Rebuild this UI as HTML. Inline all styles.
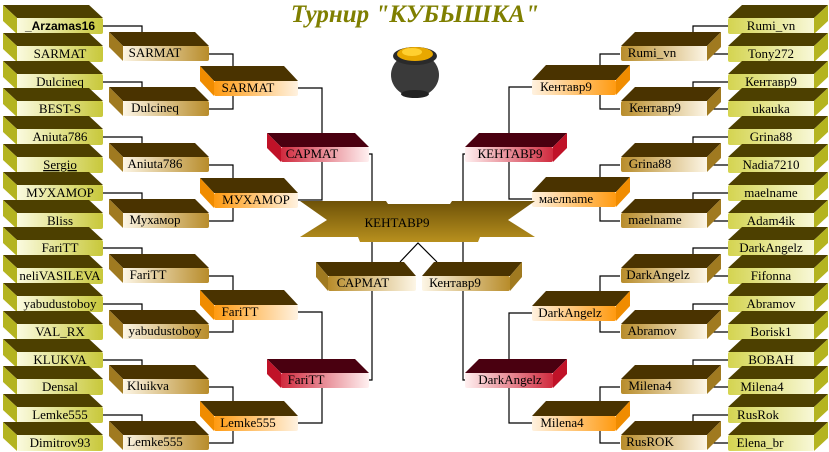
<!DOCTYPE html>
<html><head><meta charset="utf-8"><style>
html,body{margin:0;padding:0;background:#fff;width:829px;height:452px;overflow:hidden}
svg text{font-family:"Liberation Serif",serif;font-size:13px;fill:#000;text-anchor:middle}
</style></head><body>
<svg width="829" height="452" viewBox="0 0 829 452" xmlns="http://www.w3.org/2000/svg">
<defs>
<linearGradient id="l1" x1="0" x2="1"><stop offset="0" stop-color="#fbfbe0"/><stop offset="1" stop-color="#c8c83a"/></linearGradient>
<linearGradient id="r1" x1="0" x2="1"><stop offset="0" stop-color="#d4d450"/><stop offset="1" stop-color="#f8f8d8"/></linearGradient>
<linearGradient id="l2" x1="0" x2="1"><stop offset="0" stop-color="#fdf6e6"/><stop offset="1" stop-color="#b88c2a"/></linearGradient>
<linearGradient id="r2" x1="0" x2="1"><stop offset="0" stop-color="#b88c2a"/><stop offset="1" stop-color="#fdf6e6"/></linearGradient>
<linearGradient id="l3" x1="0" x2="1"><stop offset="0" stop-color="#ff9a10"/><stop offset="1" stop-color="#fff2e0"/></linearGradient>
<linearGradient id="r3" x1="0" x2="1"><stop offset="0" stop-color="#fff2e0"/><stop offset="1" stop-color="#ff9a10"/></linearGradient>
<linearGradient id="l4" x1="0" x2="1"><stop offset="0" stop-color="#d02a3e"/><stop offset="1" stop-color="#fff0f0"/></linearGradient>
<linearGradient id="r4" x1="0" x2="1"><stop offset="0" stop-color="#fff0f0"/><stop offset="1" stop-color="#d02a3e"/></linearGradient>
<linearGradient id="ban" x1="0" y1="0" x2="0" y2="1"><stop offset="0" stop-color="#6e5208"/><stop offset="1" stop-color="#b8901e"/></linearGradient>
</defs>
<text x="415" y="22" style="font-size:25px;font-weight:bold;font-style:italic;fill:#7f7f00">Турнир "КУБЫШКА"</text>
<ellipse cx="415" cy="75" rx="24" ry="22" fill="#3a3a3a"/>
<ellipse cx="415" cy="56" rx="22" ry="9" fill="#2a2a2a"/>
<ellipse cx="415" cy="54" rx="18" ry="7" fill="#e8a800"/>
<ellipse cx="412" cy="52" rx="10" ry="4" fill="#ffd030"/>
<ellipse cx="415" cy="94" rx="14" ry="4" fill="#222"/>
<g stroke="#000" stroke-width="1.2" fill="none">
<path d="M103,26H142V54H123M103,82H142V109H123M103,137H142V165H123M103,193H142V221H123M103,248H142V276H123M103,304H142V332H123M103,360H142V387H123M103,415H142V443H123"/>
<path d="M209,54H233V109H209M209,165H233V221H209M209,276H233V332H209M209,387H233V443H209"/>
<path d="M298,88H322V200H298M298,312H322V423H298"/>
<path d="M369,154H372V380H369"/>
<path d="M728,26H693V54H728M728,82H693V109H728M728,137H693V165H728M728,193H693V221H728M728,248H693V276H728M728,304H693V332H728M728,360H693V387H728M728,415H693V443H728"/>
<path d="M620,54H600V109H620M620,165H600V221H620M620,276H600V332H620M620,387H600V443H620"/>
<path d="M532,87H509V199H532M532,313H509V423H532"/>
<path d="M466,154H463V380H466"/>
<path d="M400,262L418,243L437,262"/>
</g>
<g>
<g><polygon points="3,5 89,5 103,18 17,18" fill="#4d4000"/><polygon points="3,5 17,18 17,34 3,21" fill="#b4b420"/><rect x="17" y="18" width="86" height="16" rx="2" fill="url(#l1)"/><text x="60" y="30" style="font-family:'Liberation Sans',sans-serif;font-weight:bold;font-size:12px">_Arzamas16</text></g>
<g><polygon points="3,33 89,33 103,46 17,46" fill="#4d4000"/><polygon points="3,33 17,46 17,62 3,49" fill="#b4b420"/><rect x="17" y="46" width="86" height="16" rx="2" fill="url(#l1)"/><text x="60" y="58">SARMAT</text></g>
<g><polygon points="3,61 89,61 103,74 17,74" fill="#4d4000"/><polygon points="3,61 17,74 17,90 3,77" fill="#b4b420"/><rect x="17" y="74" width="86" height="16" rx="2" fill="url(#l1)"/><text x="60" y="86">Dulcineq</text></g>
<g><polygon points="3,88 89,88 103,101 17,101" fill="#4d4000"/><polygon points="3,88 17,101 17,117 3,104" fill="#b4b420"/><rect x="17" y="101" width="86" height="16" rx="2" fill="url(#l1)"/><text x="60" y="113">BEST-S</text></g>
<g><polygon points="3,116 89,116 103,129 17,129" fill="#4d4000"/><polygon points="3,116 17,129 17,145 3,132" fill="#b4b420"/><rect x="17" y="129" width="86" height="16" rx="2" fill="url(#l1)"/><text x="60" y="141">Aniuta786</text></g>
<g><polygon points="3,144 89,144 103,157 17,157" fill="#4d4000"/><polygon points="3,144 17,157 17,173 3,160" fill="#b4b420"/><rect x="17" y="157" width="86" height="16" rx="2" fill="url(#l1)"/><text x="60" y="169" text-decoration="underline">Sergio</text></g>
<g><polygon points="3,172 89,172 103,185 17,185" fill="#4d4000"/><polygon points="3,172 17,185 17,201 3,188" fill="#b4b420"/><rect x="17" y="185" width="86" height="16" rx="2" fill="url(#l1)"/><text x="60" y="197">МУХАМОР</text></g>
<g><polygon points="3,200 89,200 103,213 17,213" fill="#4d4000"/><polygon points="3,200 17,213 17,229 3,216" fill="#b4b420"/><rect x="17" y="213" width="86" height="16" rx="2" fill="url(#l1)"/><text x="60" y="225">Bliss</text></g>
<g><polygon points="3,227 89,227 103,240 17,240" fill="#4d4000"/><polygon points="3,227 17,240 17,256 3,243" fill="#b4b420"/><rect x="17" y="240" width="86" height="16" rx="2" fill="url(#l1)"/><text x="60" y="252">FariTT</text></g>
<g><polygon points="3,255 89,255 103,268 17,268" fill="#4d4000"/><polygon points="3,255 17,268 17,284 3,271" fill="#b4b420"/><rect x="17" y="268" width="86" height="16" rx="2" fill="url(#l1)"/><text x="60" y="280">neliVASILEVA</text></g>
<g><polygon points="3,283 89,283 103,296 17,296" fill="#4d4000"/><polygon points="3,283 17,296 17,312 3,299" fill="#b4b420"/><rect x="17" y="296" width="86" height="16" rx="2" fill="url(#l1)"/><text x="60" y="308">yabudustoboy</text></g>
<g><polygon points="3,311 89,311 103,324 17,324" fill="#4d4000"/><polygon points="3,311 17,324 17,340 3,327" fill="#b4b420"/><rect x="17" y="324" width="86" height="16" rx="2" fill="url(#l1)"/><text x="60" y="336">VAL_RX</text></g>
<g><polygon points="3,339 89,339 103,352 17,352" fill="#4d4000"/><polygon points="3,339 17,352 17,368 3,355" fill="#b4b420"/><rect x="17" y="352" width="86" height="16" rx="2" fill="url(#l1)"/><text x="60" y="364">KLUKVA</text></g>
<g><polygon points="3,366 89,366 103,379 17,379" fill="#4d4000"/><polygon points="3,366 17,379 17,395 3,382" fill="#b4b420"/><rect x="17" y="379" width="86" height="16" rx="2" fill="url(#l1)"/><text x="60" y="391">Densal</text></g>
<g><polygon points="3,394 89,394 103,407 17,407" fill="#4d4000"/><polygon points="3,394 17,407 17,423 3,410" fill="#b4b420"/><rect x="17" y="407" width="86" height="16" rx="2" fill="url(#l1)"/><text x="60" y="419">Lemke555</text></g>
<g><polygon points="3,422 89,422 103,435 17,435" fill="#4d4000"/><polygon points="3,422 17,435 17,451 3,438" fill="#b4b420"/><rect x="17" y="435" width="86" height="16" rx="2" fill="url(#l1)"/><text x="60" y="447">Dimitrov93</text></g>
</g>
<g>
<g><polygon points="109,32 195,32 209,46 123,46" fill="#4a3300"/><polygon points="109,32 123,46 123,61 109,47" fill="#a07a20"/><rect x="123" y="46" width="86" height="15" rx="2" fill="url(#l2)"/><text x="155" y="57">SARMAT</text></g>
<g><polygon points="109,87 195,87 209,101 123,101" fill="#4a3300"/><polygon points="109,87 123,101 123,116 109,102" fill="#a07a20"/><rect x="123" y="101" width="86" height="15" rx="2" fill="url(#l2)"/><text x="155" y="112">Dulcineq</text></g>
<g><polygon points="109,143 195,143 209,157 123,157" fill="#4a3300"/><polygon points="109,143 123,157 123,172 109,158" fill="#a07a20"/><rect x="123" y="157" width="86" height="15" rx="2" fill="url(#l2)"/><text x="155" y="168">Aniuta786</text></g>
<g><polygon points="109,199 195,199 209,213 123,213" fill="#4a3300"/><polygon points="109,199 123,213 123,228 109,214" fill="#a07a20"/><rect x="123" y="213" width="86" height="15" rx="2" fill="url(#l2)"/><text x="155" y="224">Мухамор</text></g>
<g><polygon points="109,254 195,254 209,268 123,268" fill="#4a3300"/><polygon points="109,254 123,268 123,283 109,269" fill="#a07a20"/><rect x="123" y="268" width="86" height="15" rx="2" fill="url(#l2)"/><text x="148" y="279">FariTT</text></g>
<g><polygon points="109,310 195,310 209,324 123,324" fill="#4a3300"/><polygon points="109,310 123,324 123,339 109,325" fill="#a07a20"/><rect x="123" y="324" width="86" height="15" rx="2" fill="url(#l2)"/><text x="165" y="335">yabudustoboy</text></g>
<g><polygon points="109,365 195,365 209,379 123,379" fill="#4a3300"/><polygon points="109,365 123,379 123,394 109,380" fill="#a07a20"/><rect x="123" y="379" width="86" height="15" rx="2" fill="url(#l2)"/><text x="148" y="390">Kluikva</text></g>
<g><polygon points="109,421 195,421 209,435 123,435" fill="#4a3300"/><polygon points="109,421 123,435 123,450 109,436" fill="#a07a20"/><rect x="123" y="435" width="86" height="15" rx="2" fill="url(#l2)"/><text x="155" y="446">Lemke555</text></g>
</g>
<g>
<g><polygon points="200,66 284,66 298,81 214,81" fill="#4a3300"/><polygon points="200,66 214,81 214,96 200,81" fill="#f08c00"/><rect x="214" y="81" width="84" height="15" rx="2" fill="url(#l3)"/><text x="248" y="92">SARMAT</text></g>
<g><polygon points="200,178 284,178 298,193 214,193" fill="#4a3300"/><polygon points="200,178 214,193 214,208 200,193" fill="#f08c00"/><rect x="214" y="193" width="84" height="15" rx="2" fill="url(#l3)"/><text x="256" y="204">МУХАМОР</text></g>
<g><polygon points="200,290 284,290 298,305 214,305" fill="#4a3300"/><polygon points="200,290 214,305 214,320 200,305" fill="#f08c00"/><rect x="214" y="305" width="84" height="15" rx="2" fill="url(#l3)"/><text x="240" y="316">FariTT</text></g>
<g><polygon points="200,401 284,401 298,416 214,416" fill="#4a3300"/><polygon points="200,401 214,416 214,431 200,416" fill="#f08c00"/><rect x="214" y="416" width="84" height="15" rx="2" fill="url(#l3)"/><text x="248" y="427">Lemke555</text></g>
</g>
<g><polygon points="267,133 355,133 369,147 281,147" fill="#4a0010"/><polygon points="267,133 281,147 281,162 267,148" fill="#c01228"/><rect x="281" y="147" width="88" height="15" rx="2" fill="url(#l4)"/><text x="312" y="158">САРМАТ</text></g>
<g><polygon points="267,359 355,359 369,373 281,373" fill="#4a0010"/><polygon points="267,359 281,373 281,388 267,374" fill="#c01228"/><rect x="281" y="373" width="88" height="15" rx="2" fill="url(#l4)"/><text x="306" y="384">FariTT</text></g>
<g>
<g><polygon points="742,5 828,5 814,18 728,18" fill="#4d4000"/><polygon points="814,18 828,5 828,21 814,34" fill="#b4b420"/><rect x="728" y="18" width="86" height="16" rx="2" fill="url(#r1)"/><text x="771" y="30">Rumi_vn</text></g>
<g><polygon points="742,33 828,33 814,46 728,46" fill="#4d4000"/><polygon points="814,46 828,33 828,49 814,62" fill="#b4b420"/><rect x="728" y="46" width="86" height="16" rx="2" fill="url(#r1)"/><text x="771" y="58">Tony272</text></g>
<g><polygon points="742,61 828,61 814,74 728,74" fill="#4d4000"/><polygon points="814,74 828,61 828,77 814,90" fill="#b4b420"/><rect x="728" y="74" width="86" height="16" rx="2" fill="url(#r1)"/><text x="771" y="86">Кентавр9</text></g>
<g><polygon points="742,88 828,88 814,101 728,101" fill="#4d4000"/><polygon points="814,101 828,88 828,104 814,117" fill="#b4b420"/><rect x="728" y="101" width="86" height="16" rx="2" fill="url(#r1)"/><text x="771" y="113">ukauka</text></g>
<g><polygon points="742,116 828,116 814,129 728,129" fill="#4d4000"/><polygon points="814,129 828,116 828,132 814,145" fill="#b4b420"/><rect x="728" y="129" width="86" height="16" rx="2" fill="url(#r1)"/><text x="771" y="141">Grina88</text></g>
<g><polygon points="742,144 828,144 814,157 728,157" fill="#4d4000"/><polygon points="814,157 828,144 828,160 814,173" fill="#b4b420"/><rect x="728" y="157" width="86" height="16" rx="2" fill="url(#r1)"/><text x="771" y="169">Nadia7210</text></g>
<g><polygon points="742,172 828,172 814,185 728,185" fill="#4d4000"/><polygon points="814,185 828,172 828,188 814,201" fill="#b4b420"/><rect x="728" y="185" width="86" height="16" rx="2" fill="url(#r1)"/><text x="771" y="197">maelname</text></g>
<g><polygon points="742,200 828,200 814,213 728,213" fill="#4d4000"/><polygon points="814,213 828,200 828,216 814,229" fill="#b4b420"/><rect x="728" y="213" width="86" height="16" rx="2" fill="url(#r1)"/><text x="771" y="225">Adam4ik</text></g>
<g><polygon points="742,227 828,227 814,240 728,240" fill="#4d4000"/><polygon points="814,240 828,227 828,243 814,256" fill="#b4b420"/><rect x="728" y="240" width="86" height="16" rx="2" fill="url(#r1)"/><text x="771" y="252">DarkAngelz</text></g>
<g><polygon points="742,255 828,255 814,268 728,268" fill="#4d4000"/><polygon points="814,268 828,255 828,271 814,284" fill="#b4b420"/><rect x="728" y="268" width="86" height="16" rx="2" fill="url(#r1)"/><text x="771" y="280">Fifonna</text></g>
<g><polygon points="742,283 828,283 814,296 728,296" fill="#4d4000"/><polygon points="814,296 828,283 828,299 814,312" fill="#b4b420"/><rect x="728" y="296" width="86" height="16" rx="2" fill="url(#r1)"/><text x="771" y="308">Abramov</text></g>
<g><polygon points="742,311 828,311 814,324 728,324" fill="#4d4000"/><polygon points="814,324 828,311 828,327 814,340" fill="#b4b420"/><rect x="728" y="324" width="86" height="16" rx="2" fill="url(#r1)"/><text x="771" y="336">Borisk1</text></g>
<g><polygon points="742,339 828,339 814,352 728,352" fill="#4d4000"/><polygon points="814,352 828,339 828,355 814,368" fill="#b4b420"/><rect x="728" y="352" width="86" height="16" rx="2" fill="url(#r1)"/><text x="771" y="364">BOBAH</text></g>
<g><polygon points="742,366 828,366 814,379 728,379" fill="#4d4000"/><polygon points="814,379 828,366 828,382 814,395" fill="#b4b420"/><rect x="728" y="379" width="86" height="16" rx="2" fill="url(#r1)"/><text x="762" y="391">Milena4</text></g>
<g><polygon points="742,394 828,394 814,407 728,407" fill="#4d4000"/><polygon points="814,407 828,394 828,410 814,423" fill="#b4b420"/><rect x="728" y="407" width="86" height="16" rx="2" fill="url(#r1)"/><text x="758" y="419">RusRok</text></g>
<g><polygon points="742,422 828,422 814,435 728,435" fill="#4d4000"/><polygon points="814,435 828,422 828,438 814,451" fill="#b4b420"/><rect x="728" y="435" width="86" height="16" rx="2" fill="url(#r1)"/><text x="760" y="447">Elena_br</text></g>
</g>
<g>
<g><polygon points="635,32 721,32 707,46 621,46" fill="#4a3300"/><polygon points="707,46 721,32 721,47 707,61" fill="#a07a20"/><rect x="621" y="46" width="86" height="15" rx="2" fill="url(#r2)"/><text x="652" y="57">Rumi_vn</text></g>
<g><polygon points="635,87 721,87 707,101 621,101" fill="#4a3300"/><polygon points="707,101 721,87 721,102 707,116" fill="#a07a20"/><rect x="621" y="101" width="86" height="15" rx="2" fill="url(#r2)"/><text x="655" y="112">Кентавр9</text></g>
<g><polygon points="635,143 721,143 707,157 621,157" fill="#4a3300"/><polygon points="707,157 721,143 721,158 707,172" fill="#a07a20"/><rect x="621" y="157" width="86" height="15" rx="2" fill="url(#r2)"/><text x="650" y="168">Grina88</text></g>
<g><polygon points="635,199 721,199 707,213 621,213" fill="#4a3300"/><polygon points="707,213 721,199 721,214 707,228" fill="#a07a20"/><rect x="621" y="213" width="86" height="15" rx="2" fill="url(#r2)"/><text x="655" y="224">maelname</text></g>
<g><polygon points="635,254 721,254 707,268 621,268" fill="#4a3300"/><polygon points="707,268 721,254 721,269 707,283" fill="#a07a20"/><rect x="621" y="268" width="86" height="15" rx="2" fill="url(#r2)"/><text x="658" y="279">DarkAngelz</text></g>
<g><polygon points="635,310 721,310 707,324 621,324" fill="#4a3300"/><polygon points="707,324 721,310 721,325 707,339" fill="#a07a20"/><rect x="621" y="324" width="86" height="15" rx="2" fill="url(#r2)"/><text x="652" y="335">Abramov</text></g>
<g><polygon points="635,365 721,365 707,379 621,379" fill="#4a3300"/><polygon points="707,379 721,365 721,380 707,394" fill="#a07a20"/><rect x="621" y="379" width="86" height="15" rx="2" fill="url(#r2)"/><text x="650" y="390">Milena4</text></g>
<g><polygon points="635,421 721,421 707,435 621,435" fill="#4a3300"/><polygon points="707,435 721,421 721,436 707,450" fill="#a07a20"/><rect x="621" y="435" width="86" height="15" rx="2" fill="url(#r2)"/><text x="650" y="446">RusROK</text></g>
</g>
<g>
<g><polygon points="546,65 630,65 616,80 532,80" fill="#4a3300"/><polygon points="616,80 630,65 630,80 616,95" fill="#f08c00"/><rect x="532" y="80" width="84" height="15" rx="2" fill="url(#r3)"/><text x="566" y="91">Кентавр9</text></g>
<g><polygon points="546,177 630,177 616,192 532,192" fill="#4a3300"/><polygon points="616,192 630,177 630,192 616,207" fill="#f08c00"/><rect x="532" y="192" width="84" height="15" rx="2" fill="url(#r3)"/><text x="566" y="203">маелname</text></g>
<g><polygon points="546,291 630,291 616,306 532,306" fill="#4a3300"/><polygon points="616,306 630,291 630,306 616,321" fill="#f08c00"/><rect x="532" y="306" width="84" height="15" rx="2" fill="url(#r3)"/><text x="570" y="317">DarkAngelz</text></g>
<g><polygon points="546,401 630,401 616,416 532,416" fill="#4a3300"/><polygon points="616,416 630,401 630,416 616,431" fill="#f08c00"/><rect x="532" y="416" width="84" height="15" rx="2" fill="url(#r3)"/><text x="562" y="427">Milena4</text></g>
</g>
<g><polygon points="479,133 567,133 553,147 465,147" fill="#4a0010"/><polygon points="553,147 567,133 567,148 553,162" fill="#c01228"/><rect x="465" y="147" width="88" height="15" rx="2" fill="url(#r4)"/><text x="510" y="158">КЕНТАВР9</text></g>
<g><polygon points="479,359 567,359 553,373 465,373" fill="#4a0010"/><polygon points="553,373 567,359 567,374 553,388" fill="#c01228"/><rect x="465" y="373" width="88" height="15" rx="2" fill="url(#r4)"/><text x="510" y="384">DarkAngelz</text></g>
<polygon points="300,201 386,201 388,204 450,204 452,201 535,201 508,220 535,237 480,237 478,242 360,242 358,237 300,237 327,220" fill="url(#ban)"/>
<text x="397" y="227">КЕНТАВР9</text>
<g><polygon points="316,262 404,262 416,276 328,276" fill="#4a3300"/><polygon points="316,262 328,276 328,291 316,277" fill="#a07a20"/><rect x="328" y="276" width="88" height="15" rx="2" fill="url(#r2)"/><text x="363" y="287">САРМАТ</text></g>
<g><polygon points="434,262 522,262 510,276 422,276" fill="#4a3300"/><polygon points="510,276 522,262 522,277 510,291" fill="#a07a20"/><rect x="422" y="276" width="88" height="15" rx="2" fill="url(#l2)"/><text x="455" y="287">Кентавр9</text></g>
</svg>
</body></html>
